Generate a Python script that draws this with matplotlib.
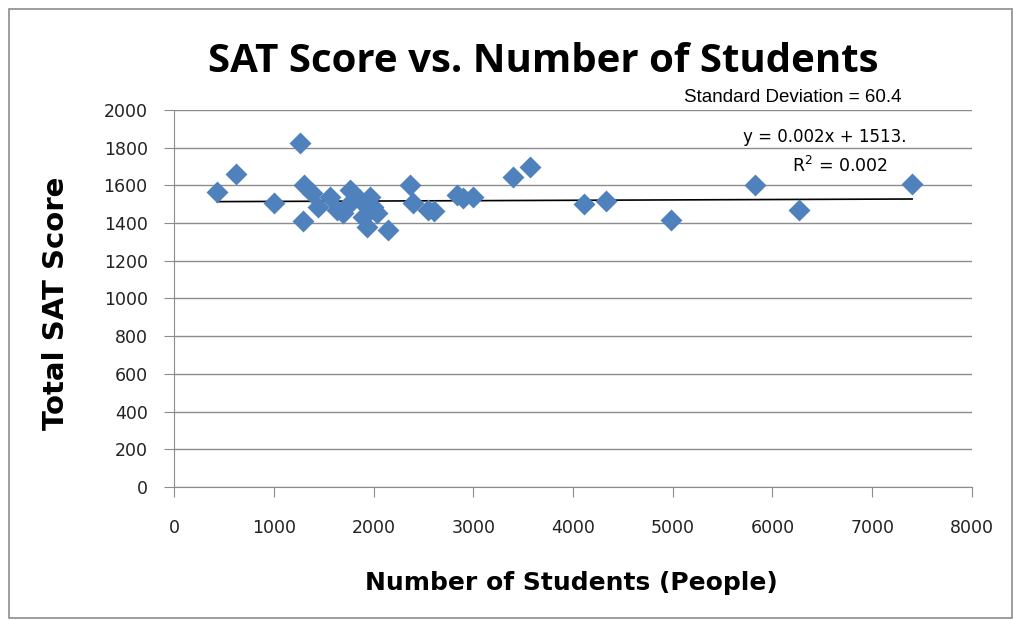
import matplotlib
matplotlib.use("Agg")
import matplotlib.pyplot as plt
from matplotlib.patches import Rectangle

# Number of students per school and total SAT score
students = [431, 622, 1003, 1263, 1303, 1293, 1383, 1444, 1564, 1634,
            1764, 1764, 1694, 1865, 1895, 1965, 1995, 1935, 2145, 2035,
            2366, 2396, 2546, 2610, 2837, 2897, 2997, 3400, 3569, 4110,
            4330, 4980, 5825, 6265, 7400]
sat_scores = [1565, 1660, 1507, 1825, 1602, 1411, 1560, 1485, 1538, 1469,
              1576, 1507, 1453, 1523, 1432, 1538, 1485, 1379, 1363, 1453,
              1602, 1507, 1469, 1465, 1549, 1533, 1538, 1645, 1698, 1500,
              1517, 1416, 1602, 1469, 1607]

slope = 0.002
intercept = 1513
std_dev = 60.4
r_squared = 0.002

x_ticks = list(range(0, 8001, 1000))
y_ticks = list(range(0, 2001, 200))

fig = plt.figure(figsize=(10.13, 6.2), dpi=100)
ax = fig.add_axes([0.1718, 0.2145, 0.7877, 0.6081])

fig.patches.append(Rectangle((0.009, 0.003), 0.99, 0.983, transform=fig.transFigure,
                             fill=False, edgecolor="#8c8c8c", linewidth=1.2))

ax.scatter(students, sat_scores, marker="D", s=125, color="#4f81bd", zorder=3,
           linewidths=0)

x_fit = [min(students), max(students)]
y_fit = [slope * x + intercept for x in x_fit]
ax.plot(x_fit, y_fit, color="black", linewidth=1.2, zorder=2)

ax.set_xlim(0, 8000)
ax.set_ylim(0, 2000)
ax.set_xticks(x_ticks)
ax.set_yticks(y_ticks)
ax.yaxis.grid(True, color="#8c8c8c", linewidth=1)
ax.set_axisbelow(True)
for side in ("top", "right"):
    ax.spines[side].set_visible(False)
for side in ("left", "bottom"):
    ax.spines[side].set_color("#8c8c8c")
ax.tick_params(axis="both", colors="#8c8c8c", length=7, labelsize=12.5,
               labelcolor="#222222", pad=12)
ax.tick_params(axis="x", pad=16)
for lab in ax.get_xticklabels() + ax.get_yticklabels():
    lab.set_family("DejaVu Sans")

fig.text(0.536, 0.90, "SAT Score vs. Number of Students", ha="center", va="center",
         fontsize=29, fontweight="bold", family="Open Sans")
fig.text(0.564, 0.06, "Number of Students (People)", ha="center", va="center",
         fontsize=18, fontweight="bold", family="DejaVu Sans")
fig.text(0.055, 0.51, "Total SAT Score", ha="center", va="center", rotation=90,
         fontsize=21, fontweight="bold", family="DejaVu Sans")

fig.text(0.783, 0.843, "Standard Deviation = {}".format(std_dev), ha="center",
         va="center", fontsize=13.5, family="Liberation Sans")
fig.text(0.814, 0.779, "y = {}x + {}.".format(slope, intercept), ha="center",
         va="center", fontsize=12, family="DejaVu Sans")
fig.text(0.829, 0.732, "R$^2$ = {}".format(r_squared), ha="center",
         va="center", fontsize=12.5, family="DejaVu Sans")

fig.savefig("out.png", dpi=100)
